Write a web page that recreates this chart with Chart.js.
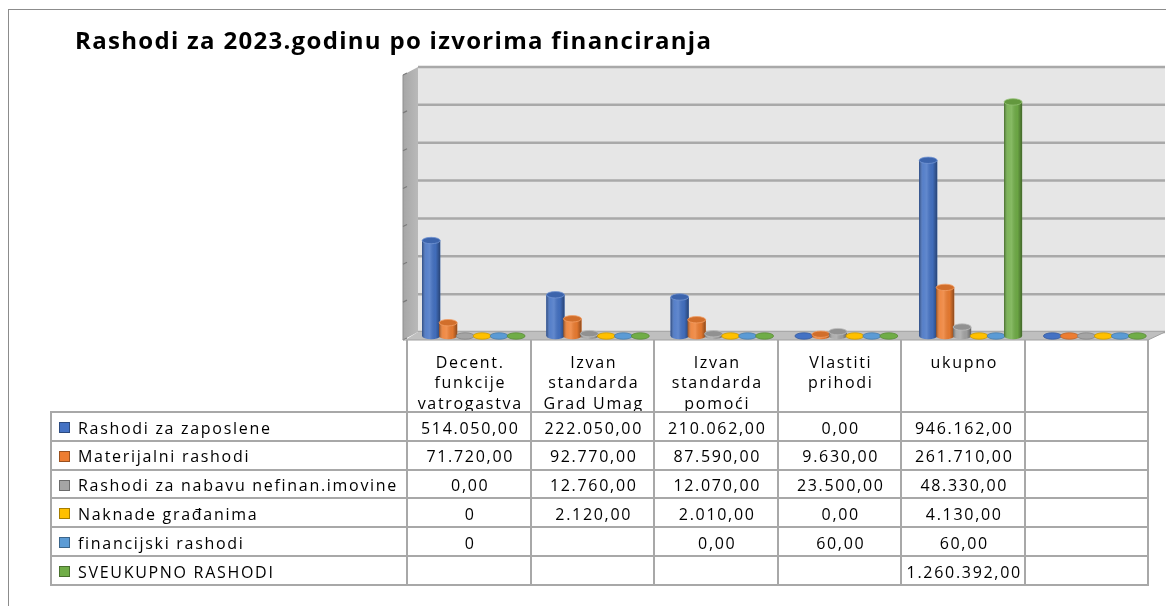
<!DOCTYPE html>
<html><head><meta charset="utf-8">
<script src="https://cdn.jsdelivr.net/npm/chart.js@4.4.0/dist/chart.umd.min.js"></script>
<style>
html,body{margin:0;padding:0;background:#fff;width:1166px;height:606px;overflow:hidden;}
#wrap{position:relative;width:1166px;height:606px;overflow:hidden;}
#frame{position:absolute;left:8px;top:9px;width:1300px;height:800px;border-left:1px solid #8c8c8c;border-top:1px solid #8c8c8c;}
canvas{position:absolute;left:0;top:0;}
#title{position:absolute;left:75px;top:28px;font:bold 24px 'Open Sans';letter-spacing:1.3px;line-height:24px;white-space:nowrap;color:#000;}
.t{position:absolute;font:16px 'Open Sans';letter-spacing:1.7px;color:#000;white-space:nowrap;}
.c{text-align:center;}
.ln{position:absolute;background:#a8a8a8;}
.key{position:absolute;width:9px;height:9px;border:1px solid rgba(0,0,0,0.35);}
</style></head><body>
<div id="wrap">
<div id="frame"></div>
<canvas id="c" width="1166" height="606"></canvas>
<div id="title">Rashodi za 2023.godinu po izvorima financiranja</div>
<div id="table"></div>
</div>
<script>
// ---------- data ----------
const categories = [
  ["Decent.", "funkcije", "vatrogastva"],
  ["Izvan", "standarda", "Grad Umag"],
  ["Izvan", "standarda", "pomoći"],
  ["Vlastiti", "prihodi"],
  ["ukupno"],
  [""]
];
const seriesNames = [
  "Rashodi za zaposlene",
  "Materijalni rashodi",
  "Rashodi za nabavu nefinan.imovine",
  "Naknade građanima",
  "financijski rashodi",
  "SVEUKUPNO RASHODI"
];
const rashodiZaZaposlene   = [514050, 222050, 210062, 0, 946162, null];
const materijalniRashodi   = [71720, 92770, 87590, 9630, 261710, null];
const nabavaNefinanImovine = [0, 12760, 12070, 23500, 48330, null];
const naknadeGradjanima    = [0, 2120, 2010, 0, 4130, null];
const financijskiRashodi   = [0, null, 0, 60, 60, null];
const sveukupnoRashodi     = [null, null, null, null, 1260392, null];
// cells that the source table shows in general format ("0" instead of "0,00"): [series, category]
const generalFormatCells = [[3, 0], [4, 0]];
const yMin = 0, yMax = 1400000, yStep = 200000;

const seriesValues = [rashodiZaZaposlene, materijalniRashodi, nabavaNefinanImovine,
                      naknadeGradjanima, financijskiRashodi, sveukupnoRashodi];
const seriesColors = ["#4472C4", "#ED7D31", "#A5A5A5", "#FFC000", "#5B9BD5", "#70AD47"];

// ---------- helpers ----------
function fmt(v, s, c) {
  if (v === null || v === undefined) return "";
  if (generalFormatCells.some(p => p[0] === s && p[1] === c)) return String(v);
  let [i, d] = v.toFixed(2).split(".");
  i = i.replace(/\B(?=(\d{3})+(?!\d))/g, ".");
  return i + "," + d;
}
function shade(hex, f) {
  const n = parseInt(hex.slice(1), 16);
  let r = (n >> 16) & 255, g = (n >> 8) & 255, b = n & 255;
  if (f < 0) { r *= 1 + f; g *= 1 + f; b *= 1 + f; }
  else { r += (255 - r) * f; g += (255 - g) * f; b += (255 - b) * f; }
  return "rgb(" + Math.round(r) + "," + Math.round(g) + "," + Math.round(b) + ")";
}

// ---------- 3D-look plugin ----------
const excel3d = {
  id: "excel3d",
  beforeDatasetsDraw(chart) {
    const ctx = chart.ctx, ca = chart.chartArea, ys = chart.scales.y;
    const y0 = ys.getPixelForValue(yMin), yT = ys.getPixelForValue(yMax);
    const backTop = yT - 9, backBot = y0 - 4, frontBot = y0 + 4;
    const bl = ca.left + 6.5, br = ca.right + 8, fl = ca.left - 6.5, fr = ca.right - 9, wl = fl - 2;
    const backY = v => backBot - (y0 - ys.getPixelForValue(v)) * (backBot - backTop) / (y0 - yT);
    ctx.save();
    ctx.fillStyle = "#e6e6e6";
    ctx.fillRect(bl, backTop, br - bl, backBot - backTop);
    ctx.strokeStyle = "#a9a9a9"; ctx.lineWidth = 2.5;
    for (let v = yMin; v <= yMax; v += yStep) {
      const y = backY(v);
      ctx.beginPath(); ctx.moveTo(bl, y); ctx.lineTo(br, y); ctx.stroke();
    }
    const g = ctx.createLinearGradient(wl, 0, bl, 0);
    g.addColorStop(0, "#a6a6a6"); g.addColorStop(1, "#b9b9b9");
    ctx.fillStyle = g;
    ctx.beginPath();
    ctx.moveTo(wl, backTop + 8); ctx.lineTo(bl, backTop); ctx.lineTo(bl, backBot); ctx.lineTo(wl, frontBot);
    ctx.closePath(); ctx.fill();
    ctx.strokeStyle = "#8f8f8f"; ctx.lineWidth = 1;
    ctx.beginPath(); ctx.moveTo(wl, backTop + 8); ctx.lineTo(wl, frontBot); ctx.stroke();
    ctx.strokeStyle = "#7a7a7a"; ctx.lineWidth = 1.2;
    for (let v = yMin; v <= yMax; v += yStep) {
      const y = backY(v) + 8;
      ctx.beginPath(); ctx.moveTo(wl, y); ctx.lineTo(wl + 4, y - 2); ctx.stroke();
    }
    ctx.fillStyle = "#bfbfbf";
    ctx.beginPath();
    ctx.moveTo(bl, backBot); ctx.lineTo(br, backBot); ctx.lineTo(fr, frontBot); ctx.lineTo(fl, frontBot);
    ctx.closePath(); ctx.fill();
    ctx.strokeStyle = "#a0a0a0"; ctx.lineWidth = 1;
    ctx.beginPath(); ctx.moveTo(wl, frontBot); ctx.lineTo(fr, frontBot); ctx.lineTo(br, backBot); ctx.stroke();
    ctx.restore();
  },
  afterDatasetsDraw(chart) {
    const ctx = chart.ctx, ys = chart.scales.y;
    const y0 = ys.getPixelForValue(yMin);
    ctx.save();
    const n = chart.data.labels.length;
    for (let i = 0; i < n; i++) {
      chart.data.datasets.forEach((ds, di) => {
        const el = chart.getDatasetMeta(di).data[i];
        if (!el) return;
        const col = seriesColors[di];
        const x = el.x, rx = el.width / 2, ry = 3.2;
        const v = ds.data[i];
        const top = (v === null || !isFinite(el.y)) ? y0 : el.y;
        if (y0 - top < 1.5) {
          ctx.beginPath(); ctx.ellipse(x, y0, rx, ry, 0, 0, Math.PI * 2);
          ctx.fillStyle = col; ctx.fill();
          ctx.strokeStyle = shade(col, -0.2); ctx.lineWidth = 0.8; ctx.stroke();
          return;
        }
        const path = () => {
          ctx.beginPath();
          ctx.moveTo(x - rx, top); ctx.lineTo(x - rx, y0);
          ctx.ellipse(x, y0, rx, ry, 0, Math.PI, 0, true);
          ctx.lineTo(x + rx, top); ctx.closePath();
        };
        path(); ctx.fillStyle = col; ctx.fill();
        const gr = ctx.createLinearGradient(x - rx, 0, x + rx, 0);
        gr.addColorStop(0, "rgba(0,0,0,0.38)");
        gr.addColorStop(0.22, "rgba(255,255,255,0.10)");
        gr.addColorStop(0.42, "rgba(255,255,255,0.16)");
        gr.addColorStop(0.75, "rgba(0,0,0,0.05)");
        gr.addColorStop(1, "rgba(0,0,0,0.40)");
        path(); ctx.fillStyle = gr; ctx.fill();
        ctx.beginPath(); ctx.ellipse(x, top, rx, ry, 0, 0, Math.PI * 2);
        ctx.fillStyle = shade(col, -0.12); ctx.fill();
        ctx.strokeStyle = shade(col, 0.25); ctx.lineWidth = 0.8; ctx.stroke();
      });
    }
    ctx.restore();
  }
};

// ---------- chart ----------
const chart = new Chart(document.getElementById("c"), {
  type: "bar",
  data: {
    labels: categories,
    datasets: seriesNames.map((name, k) => ({
      label: name,
      data: seriesValues[k],
      backgroundColor: seriesColors[k],
      borderWidth: 0
    }))
  },
  options: {
    responsive: false,
    animation: false,
    devicePixelRatio: 1,
    layout: { padding: { left: 411.5, right: 9, top: 76, bottom: 270 } },
    datasets: { bar: { categoryPercentage: 0.82, barPercentage: 1.06 } },
    plugins: { legend: { display: false }, title: { display: false }, tooltip: { enabled: false } },
    scales: {
      x: { display: false, offset: true, grid: { display: false } },
      y: { display: false, min: yMin, max: yMax, ticks: { stepSize: yStep }, grid: { display: false } }
    }
  },
  plugins: [excel3d]
});

// ---------- data table ----------
(function buildTable() {
  const host = document.getElementById("table");
  const X0 = 51, X1 = 407, colW = 123.5, n = categories.length;
  const headTop = 340, headBot = 412, rowH = 28.83;
  const xRight = X1 + n * colW;
  const yBottom = headBot + seriesNames.length * rowH;
  const add = (cls, css, text) => {
    const d = document.createElement("div"); d.className = cls;
    Object.assign(d.style, css); if (text !== undefined) d.textContent = text;
    host.appendChild(d); return d;
  };
  categories.forEach((lines, c) => {
    add("t c", { left: (X1 + c * colW + 1.5) + "px", top: "351.5px", width: colW + "px", lineHeight: "20.5px" })
      .innerHTML = lines.map(s => s.replace(/&/g, "&amp;").replace(/</g, "&lt;")).join("<br>");
  });
  seriesNames.forEach((name, s) => {
    const top = headBot + s * rowH;
    add("key", { left: "59px", top: (top + 10) + "px", background: seriesColors[s] });
    add("t", { left: "78px", top: (top + 1.5) + "px", lineHeight: rowH + "px" }, name);
    seriesValues[s].forEach((v, c) => {
      add("t c", { left: (X1 + c * colW + 1.5) + "px", top: (top + 1.5) + "px", width: colW + "px", lineHeight: rowH + "px" }, fmt(v, s, c));
    });
  });
  for (let c = 0; c <= n; c++) {
    add("ln", { left: (X1 + c * colW - 1) + "px", top: headTop + "px", width: "2px", height: (yBottom - headTop) + "px" });
  }
  add("ln", { left: (X0 - 1) + "px", top: headBot + "px", width: "2px", height: (yBottom - headBot) + "px" });
  for (let r = 0; r <= seriesNames.length; r++) {
    const y = headBot + r * rowH;
    add("ln", { left: (X0 - 1) + "px", top: (y - 1) + "px", width: (xRight - X0 + 2) + "px", height: "2px" });
  }
})();
</script>
</body></html>
